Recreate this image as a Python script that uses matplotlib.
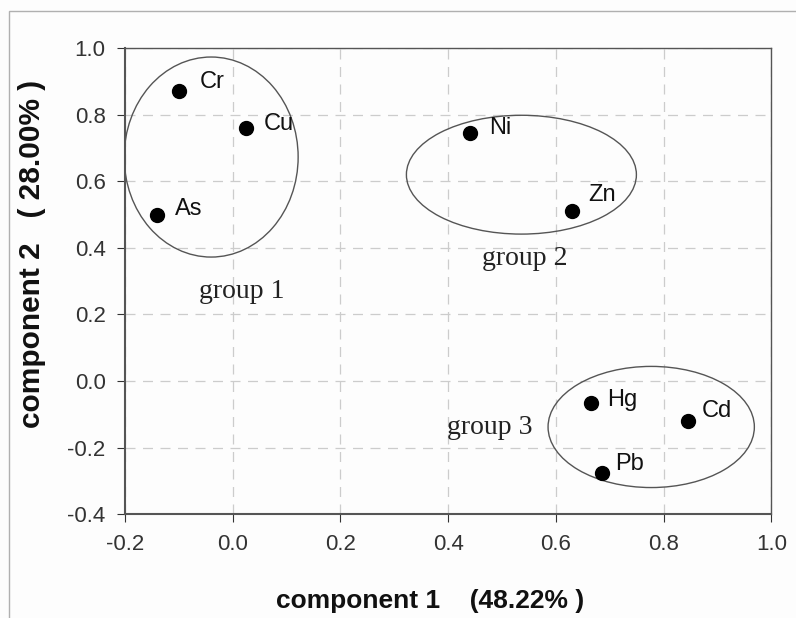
import matplotlib.pyplot as plt
from matplotlib.patches import Ellipse, Rectangle

plt.rcParams['font.family'] = ['Liberation Sans', 'DejaVu Sans']

# loadings
elements = ['Cr', 'Cu', 'As', 'Ni', 'Zn', 'Hg', 'Cd', 'Pb']
comp1 = [-0.10, 0.025, -0.14, 0.44, 0.63, 0.665, 0.845, 0.685]
comp2 = [0.87, 0.76, 0.50, 0.745, 0.51, -0.065, -0.12, -0.275]

# groups: centre, width, height, label position
group_names = ['group 1', 'group 2', 'group 3']
group_cx = [-0.040, 0.536, 0.777]
group_cy = [0.673, 0.620, -0.138]
group_w = [0.323, 0.427, 0.383]
group_h = [0.601, 0.357, 0.364]
label_x = [0.017, 0.543, 0.478]
label_y = [0.270, 0.369, -0.141]

# label offsets (points) next to each dot
offs = {'Cr': (15, 7), 'Cu': (13, 3), 'As': (13, 4), 'Ni': (14, 4),
        'Zn': (12, 12), 'Hg': (12, 2), 'Cd': (10, 7), 'Pb': (10, 6)}

fig = plt.figure(figsize=(7.96, 6.18), dpi=100, facecolor='#fdfdfd')
ax = fig.add_axes([0.157, 0.168, 0.812, 0.754])
ax.set_facecolor('#fdfdfd')

fig.patches.append(Rectangle((9/796, -0.1), 1.2, 1 - 11/618 + 0.1, transform=fig.transFigure,
                             fill=False, edgecolor='#b0b0b0', linewidth=1.0))

ax.grid(True, linestyle=(0, (8, 6)), color='#cccccc', linewidth=0.9)
ax.set_axisbelow(True)

ax.scatter(comp1, comp2, s=100, color='black', zorder=3)
for name, x, y in zip(elements, comp1, comp2):
    ax.annotate(name, (x, y), xytext=offs[name], textcoords='offset points',
                ha='left', va='center', fontsize=17, color='#111111')

for i in range(3):
    ax.add_patch(Ellipse((group_cx[i], group_cy[i]), group_w[i], group_h[i],
                         fill=False, edgecolor='#555555', linewidth=1.0))
    ax.text(label_x[i], label_y[i], group_names[i], ha='center', va='center',
            fontsize=20, family='Liberation Serif', color='#222222')

ax.set_xlim(-0.2, 1.0)
ax.set_ylim(-0.4, 1.0)
ax.set_xticks([-0.2, 0.0, 0.2, 0.4, 0.6, 0.8, 1.0])
ax.set_yticks([-0.4, -0.2, 0.0, 0.2, 0.4, 0.6, 0.8, 1.0])
ax.xaxis.set_major_formatter(plt.FormatStrFormatter('%.1f'))
ax.yaxis.set_major_formatter(plt.FormatStrFormatter('%.1f'))
ax.tick_params(labelsize=16, colors='#333333', direction='out', length=6, pad=8)

for s in ['left', 'bottom']:
    ax.spines[s].set_color('#555555')
    ax.spines[s].set_linewidth(1.5)
for s in ['top', 'right']:
    ax.spines[s].set_color('#555555')
    ax.spines[s].set_linewidth(1.0)

ax.set_xlabel('component 1    (48.22% )', fontsize=19, fontweight='bold', color='#111111')
ax.set_ylabel('component 2   ( 28.00% )', fontsize=21.5, fontweight='bold', color='#111111')
ax.xaxis.set_label_coords(0.472, -0.160)
ax.yaxis.set_label_coords(-0.122, 0.558)

plt.savefig('out.png', dpi=100, facecolor=fig.get_facecolor())
